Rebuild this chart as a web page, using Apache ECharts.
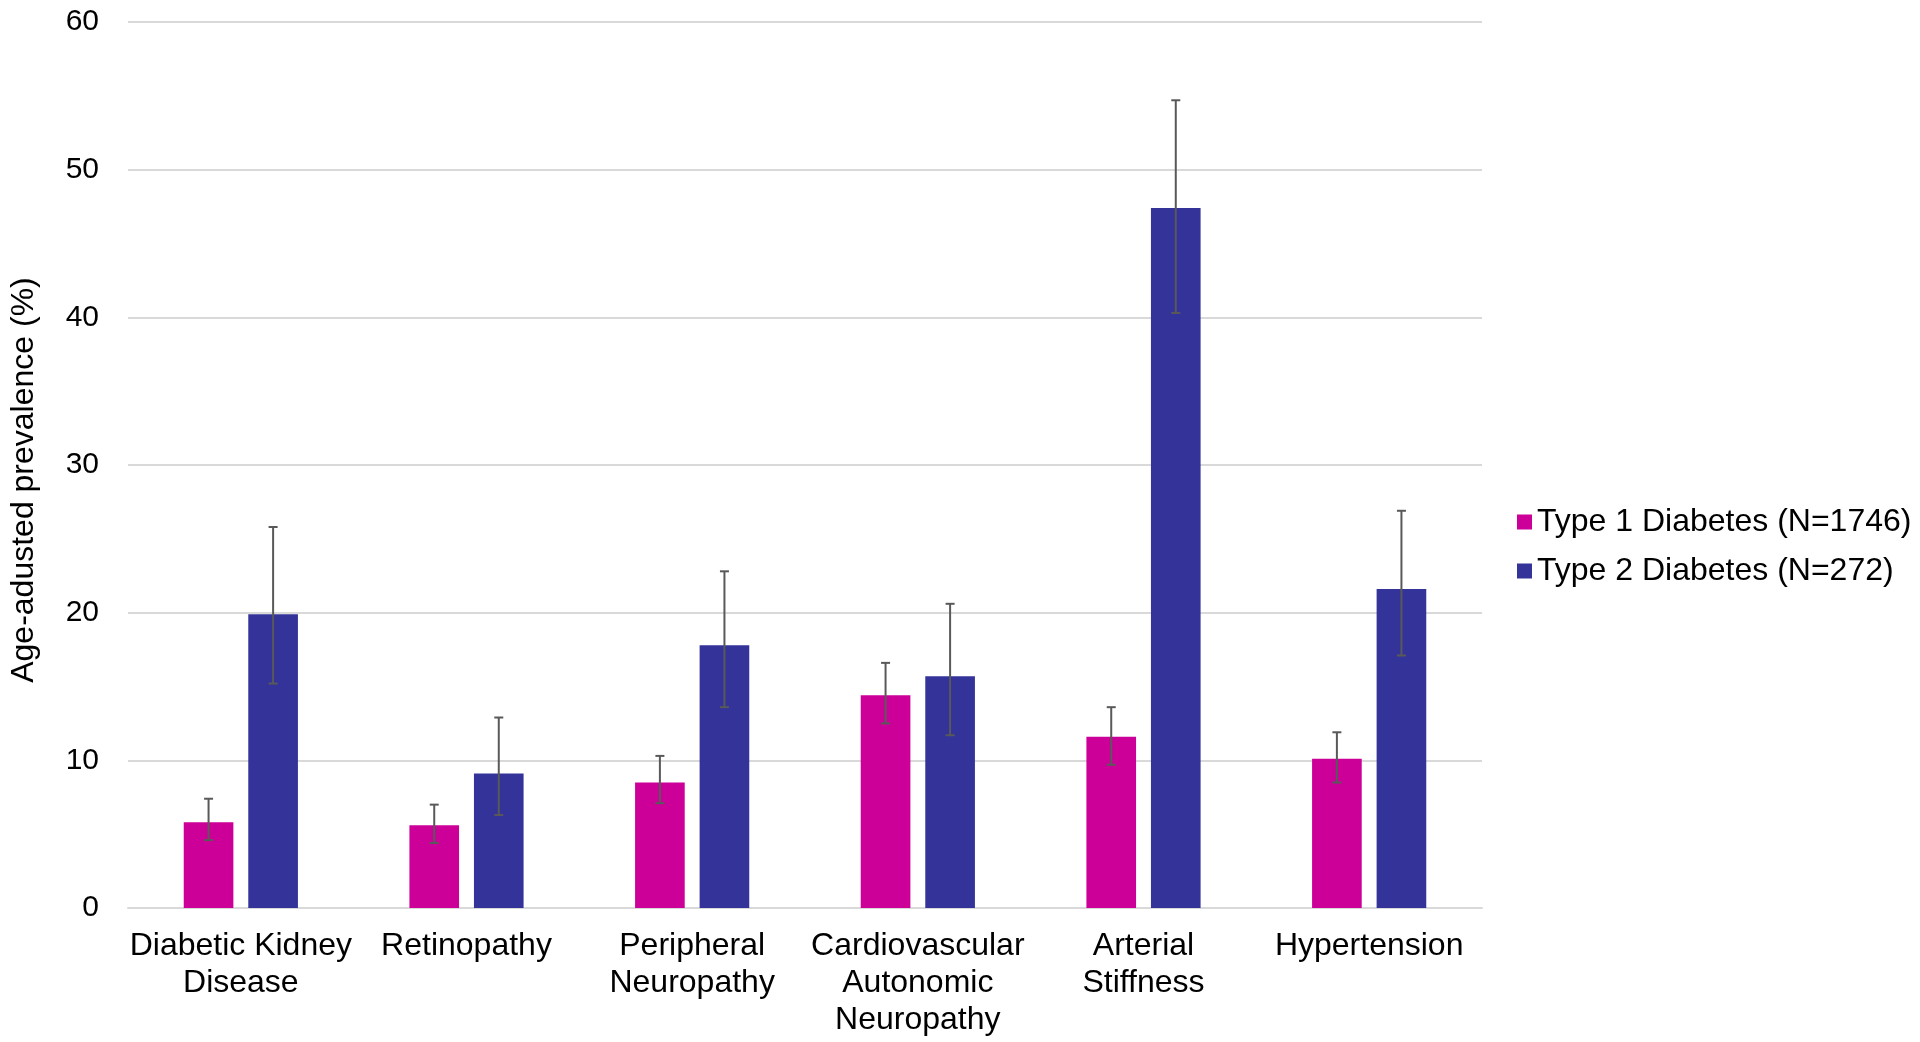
<!DOCTYPE html>
<html>
<head>
<meta charset="utf-8">
<script src="https://cdn.jsdelivr.net/npm/echarts@6/dist/echarts.min.js"></script>
<style>
    html, body { margin: 0; padding: 0; background: #ffffff; }
    #chart { width: 1920px; height: 1042px; }
</style>
</head>
<body>
<div id="chart"></div>
<script>
// categories (\n = line break as in the figure)
const categories = [
    "Diabetic Kidney\nDisease",
    "Retinopathy",
    "Peripheral\nNeuropathy",
    "Cardiovascular\nAutonomic\nNeuropathy",
    "Arterial\nStiffness",
    "Hypertension"
];

const seriesNames = ["Type 1 Diabetes (N=1746)", "Type 2 Diabetes (N=272)"];

// age-adjusted prevalence (%) and 95% CI
const t1Values = [5.8, 5.6, 8.5, 14.4, 11.6, 10.1];
const t1Low = [4.6, 4.4, 7.1, 12.5, 9.7, 8.5];
const t1High = [7.4, 7.0, 10.3, 16.6, 13.6, 11.9];

const t2Values = [19.9, 9.1, 17.8, 15.7, 47.4, 21.6];
const t2Low = [15.2, 6.3, 13.6, 11.7, 40.3, 17.1];
const t2High = [25.8, 12.9, 22.8, 20.6, 54.7, 26.9];

const yTicks = { min: 0, max: 60, interval: 10 };

const colorT1 = "#CC0099";
const colorT2 = "#333399";
const barFrac = 0.22;  // bar width as part of the category band
const gapFrac = 0.3;   // gap between the two bars, as part of bar width

function errorData (low, high) {
    return low.map((v, i) => [i, v, high[i]]);
}

// error bar drawn over the bar of one series; side = -1 left bar, +1 right bar
function errorBar (side) {
    return function (params, api) {
        const idx = api.value(0);
        const lo = api.coord([idx, api.value(1)]);
        const hi = api.coord([idx, api.value(2)]);
        const band = api.size([1, 0])[0];
        const x = lo[0] + side * band * barFrac * (1 + gapFrac) / 2;
        const cap = 4.5;
        const style = { stroke: "#595959", lineWidth: 2 };
        return {
            type: "group",
            children: [
                { type: "line", shape: { x1: x, y1: lo[1], x2: x, y2: hi[1] }, style },
                { type: "line", shape: { x1: x - cap, y1: lo[1], x2: x + cap, y2: lo[1] }, style },
                { type: "line", shape: { x1: x - cap, y1: hi[1], x2: x + cap, y2: hi[1] }, style }
            ]
        };
    };
}

const chart = echarts.init(document.getElementById("chart"), null, { renderer: "canvas" });

const option = {
    animation: false,
    backgroundColor: "#ffffff",
    textStyle: { fontFamily: "'Liberation Sans', Arial, sans-serif", color: "#000000" },
    grid: { left: 126, right: 438, top: 22, bottom: 134 },
    legend: {
        data: seriesNames,
        orient: "vertical",
        left: 1512,
        top: 501,
        icon: "rect",
        itemWidth: 15,
        itemHeight: 15,
        itemGap: 17,
        textStyle: { fontSize: 32, color: "#000000" }
    },
    xAxis: {
        type: "category",
        data: categories,
        axisLine: { lineStyle: { color: "#d9d9d9", width: 2 } },
        axisTick: { show: false },
        axisLabel: {
            interval: 0,
            margin: 20,
            fontSize: 32,
            lineHeight: 37,
            color: "#000000"
        }
    },
    yAxis: {
        type: "value",
        min: yTicks.min,
        max: yTicks.max,
        interval: yTicks.interval,
        name: "Age-adusted prevalence (%)",
        nameLocation: "middle",
        nameGap: 88,
        nameTextStyle: { fontSize: 32, color: "#000000", padding: [0, 30, 0, 0] },
        axisLine: { show: false },
        axisTick: { show: false },
        axisLabel: { fontSize: 30, margin: 29, color: "#000000" },
        splitLine: { lineStyle: { color: "#d9d9d9", width: 2 } }
    },
    series: [
        {
            name: seriesNames[0],
            type: "bar",
            data: t1Values,
            barWidth: (barFrac * 100) + "%",
            barGap: (gapFrac * 100) + "%",
            itemStyle: { color: colorT1 }
        },
        {
            name: seriesNames[1],
            type: "bar",
            data: t2Values,
            barWidth: (barFrac * 100) + "%",
            barGap: (gapFrac * 100) + "%",
            itemStyle: { color: colorT2 }
        },
        {
            type: "custom",
            renderItem: errorBar(-1),
            data: errorData(t1Low, t1High),
            encode: { x: 0, y: [1, 2] },
            z: 10,
            silent: true
        },
        {
            type: "custom",
            renderItem: errorBar(1),
            data: errorData(t2Low, t2High),
            encode: { x: 0, y: [1, 2] },
            z: 10,
            silent: true
        }
    ]
};

chart.setOption(option);
</script>
</body>
</html>
